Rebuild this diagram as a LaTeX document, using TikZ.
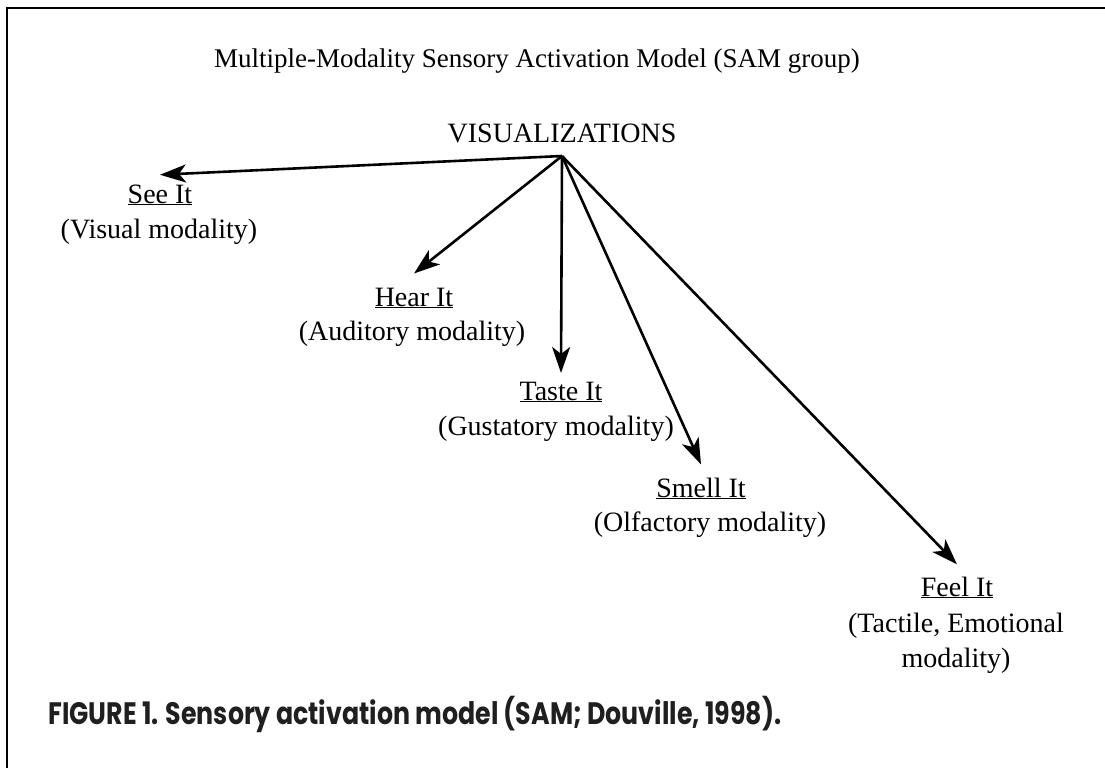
\documentclass[tikz,border=0pt]{standalone}
\usepackage{fontspec}
\setmainfont{Liberation Serif}
\newfontfamily\capfont{Poppins}
\usetikzlibrary{arrows.meta}
\tikzset{
  arr/.style={line width=2.6pt,-{Stealth[length=26pt,width=18pt,inset=7pt]}},
  lbl/.style={inner xsep=0pt,inner ysep=#1,anchor=base,font=\fontsize{28}{34}\selectfont},
  lbl/.default=11pt,
  txt/.style={inner sep=0pt,anchor=base,font=\fontsize{28}{34}\selectfont},
  frame/.style={line width=2.6pt}
}
\begin{document}
\begin{tikzpicture}[x=1pt,y=-1pt]
\useasboundingbox (0,0) rectangle (1105,768);
\coordinate (fa) at (7,768);
\coordinate (fb) at (7,8);
\coordinate (fc) at (1105,8);
\draw[frame] (fa) -- (fb) -- (fc);
\node[txt,font=\fontsize{27}{34}\selectfont] (title) at (537,67) {Multiple-Modality Sensory Activation Model (SAM group)};
\node[txt] (vis) at (562,142) {VISUALIZATIONS};
\coordinate (apex) at (562,156);
\node[lbl=9.5pt] (see) at (160,203) {\underline{See It}};
\node[txt] (seed) at (159,238) {(Visual modality)};
\node[lbl=14pt] (hear) at (414,306) {\underline{Hear It}};
\node[txt] (heard) at (412,340) {(Auditory modality)};
\node[lbl=8.5pt] (taste) at (561,400) {\underline{Taste It}};
\node[txt] (tasted) at (556,435) {(Gustatory modality)};
\node[lbl=13pt] (smell) at (701,497) {\underline{Smell It}};
\node[txt] (smelld) at (710,531) {(Olfactory modality)};
\node[lbl=12pt] (feel) at (957,596) {\underline{Feel It}};
\node[txt] (feeld1) at (956,632) {(Tactile, Emotional};
\node[txt] (feeld2) at (956,667) {modality)};
\draw[arr] (apex) -- (see.north);
\draw[arr] (apex) -- (hear.north);
\draw[arr] (apex) -- (taste.north);
\draw[arr] (apex) -- (smell.north);
\draw[arr] (apex) -- (feel.north);
\node[inner sep=0pt,anchor=base west,text=black!88,font=\capfont\bfseries\fontsize{31}{36}\selectfont] (cap) at (48,724) {\scalebox{0.815}[1]{FIGURE 1. Sensory activation model (SAM; Douville, 1998).}};
\end{tikzpicture}
\end{document}
